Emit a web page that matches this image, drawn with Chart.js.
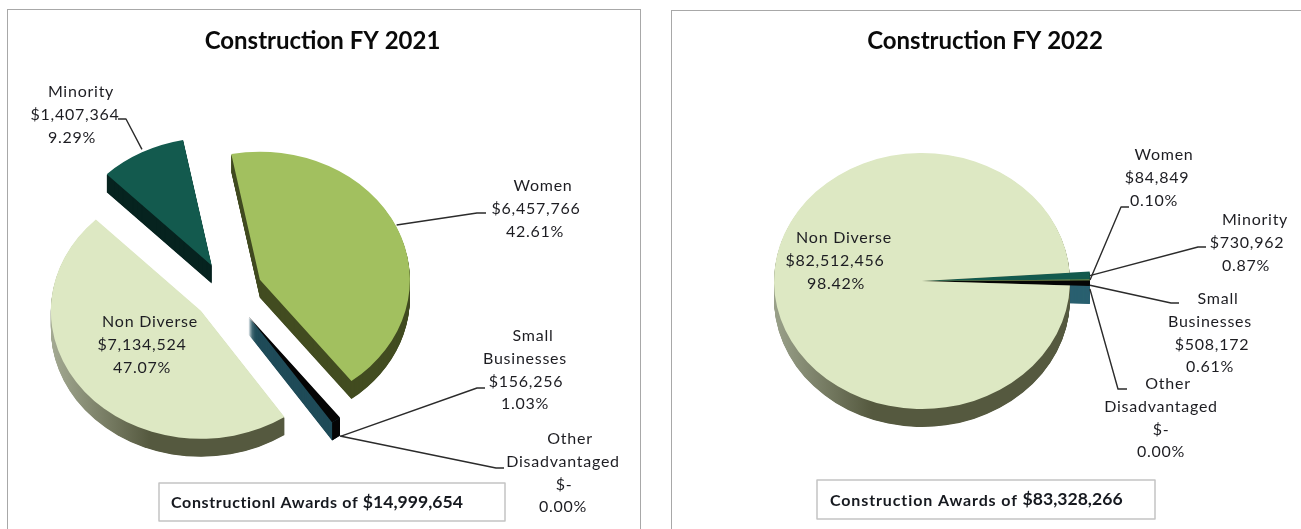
<!DOCTYPE html>
<html><head><meta charset="utf-8">
<style>
html,body{margin:0;padding:0;background:#fff;width:1301px;height:529px;overflow:hidden}
.panel{position:absolute;box-sizing:border-box;background:#fff}
canvas{position:absolute;top:0}
</style>
<script src="https://cdn.jsdelivr.net/npm/chart.js@4"></script>
</head><body>
<div class="panel" style="left:7px;top:9px;width:634px;height:540px;border:1.5px solid #a8a8a8"></div>
<div class="panel" style="left:671px;top:10px;width:650px;height:540px;border:1.5px solid #a8a8a8"></div>
<canvas id="c1" style="left:0;width:650px;height:529px"></canvas>
<canvas id="c2" style="left:650px;width:651px;height:529px"></canvas>
<script>
// ---------- data ----------
const categories2021 = ['Women', 'Other Disadvantaged', 'Small Businesses', 'Non Diverse', 'Minority'];
const values2021 = [6457766, 0, 156256, 7134524, 1407364];
const categories2022 = ['Minority', 'Women', 'Small Businesses', 'Other Disadvantaged', 'Non Diverse'];
const values2022 = [730962, 84849, 508172, 0, 82512456];
const title2021 = 'Construction FY 2021';
const title2022 = 'Construction FY 2022';
const awardsLabel2021 = 'Constructionl Awards of ';
const awardsTotal2021 = '$14,999,654';
const awardsLabel2022 = 'Construction Awards of ';
const awardsTotal2022 = '$83,328,266';

// ---------- styles ----------
const FONT = 'Lato';
const LABEL_FONT = '16px ' + FONT;
const LIME = '#a2c05f', PALE = '#dde8c3', PINE = '#135a4e', BLACK = '#050505';
const faces2021 = [LIME, BLACK, BLACK, PALE, PINE];
const walls2021 = ['#424c20', '#1f4b58', '#1f4b58', 'GRAD', '#06231f'];
const rims2021 = [null, null, BLACK, null, null];
const faces2022 = [PINE, LIME, BLACK, BLACK, PALE];
const walls2022 = ['#06231f', '#424c20', '#2a6070', '#2a6070', 'GRAD'];
const rims2022 = [null, null, null, null, null];

// ---------- layout (page pixels) ----------
const labels2021 = [
  {xs:[542,535,534], y:186, leader:[[477,213],[486,213]], nudge:[0,-2]},
  {xs:[569,562,563,562], y:439, leader:[[496,468],[504,468]], nudge:[-1,19]},
  {xs:[532,524,525,524], y:336, leader:[[477,388],[485,388]], nudge:[5,16]},
  {xs:[149,141,141], y:322},
  {xs:[80,74,71], y:92, leader:[[126,119],[118,119]], nudge:[0,-3]}
];
const labels2022 = [
  {xs:[1254,1246,1245], y:220, leader:[[1198,247],[1206,247]], nudge:[0,0]},
  {xs:[1163,1156,1153], y:155, leader:[[1121,207],[1129,207]], nudge:[0,0]},
  {xs:[1217,1209,1211,1209], y:299, leader:[[1171,303],[1179,303]], nudge:[0,2]},
  {xs:[1167,1160,1160,1160], y:384, leader:[[1118,389],[1127,389]], nudge:[0,3]},
  {xs:[843,834,835], y:238}
];

function money(v){ return v === 0 ? '$-' : '$' + v.toLocaleString('en-US'); }
function labelLines(name, value, total){
  const head = name === 'Non Diverse' ? [name] : name.split(' ');
  return head.concat([money(value), (value/total*100).toFixed(2) + '%']);
}

function pie3d(cfg){
  let bx = 0, by = 0;
  const xf = (ctx,d) => {
    ctx.translate(cfg.cx, cfg.cy+d);
    ctx.scale(1,cfg.sy);
    ctx.translate(-bx,-by);
  };
  return {
    id:'pie3d',
    // each slice is pulled out along its own mid-angle, and small slices may reach further out
    afterDatasetUpdate(chart){
      chart.getDatasetMeta(0).data.forEach((a,i)=>{
        bx = a.x; by = a.y;
        const mid = (a.startAngle+a.endAngle)/2;
        a.x = bx + Math.cos(mid)*cfg.explode;
        a.y = by + Math.sin(mid)*cfg.explode;
        a.outerRadius += cfg.boost[i]||0;
      });
    },
    beforeDatasetDraw(chart){
      const ctx = chart.ctx, arcs = chart.getDatasetMeta(0).data;
      const dx = cfg.cx-bx;
      const grad = ctx.createLinearGradient(cfg.gradX[0]-dx,0,cfg.gradX[1]-dx,0);
      grad.addColorStop(0,cfg.gradFrom); grad.addColorStop(1,'#55593f');
      cfg.wallOrder.forEach(i=>{
        const a = arcs[i];
        if (a.endAngle-a.startAngle <= 0) return;
        ctx.fillStyle = cfg.walls[i]==='GRAD' ? grad : cfg.walls[i];
        for (let d=cfg.depth; d>=1; d-=0.5){
          ctx.save(); xf(ctx,d);
          ctx.beginPath(); ctx.moveTo(a.x,a.y); ctx.arc(a.x,a.y,a.outerRadius,a.startAngle,a.endAngle); ctx.closePath();
          ctx.fill(); ctx.restore();
        }
        if (cfg.rims[i]){
          ctx.save(); ctx.fillStyle = cfg.rims[i];
          const pts=[];
          for(let k=0;k<=12;k++){
            const t=a.startAngle+(a.endAngle-a.startAngle)*k/12;
            pts.push([cfg.cx+(a.x-bx)+Math.cos(t)*a.outerRadius, cfg.cy+((a.y-by)+Math.sin(t)*a.outerRadius)*cfg.sy]);
          }
          ctx.beginPath(); pts.forEach((p,k)=>k?ctx.lineTo(p[0],p[1]):ctx.moveTo(p[0],p[1]));
          pts.slice().reverse().forEach(p=>ctx.lineTo(p[0],p[1]+cfg.depth)); ctx.closePath(); ctx.fill(); ctx.restore();
        }
      });
      ctx.save(); xf(ctx,0);
    },
    afterDatasetDraw(chart){ chart.ctx.restore(); },
    afterDraw(chart){
      const ctx = chart.ctx, arcs = chart.getDatasetMeta(0).data, ox = cfg.originX;
      const total = cfg.values.reduce((s,v)=>s+v,0);
      ctx.save();
      ctx.strokeStyle='#2b2b2b'; ctx.lineWidth=1.4; ctx.lineJoin='round';
      cfg.labels.forEach((L,i)=>{
        if(!L.leader) return;
        const a=arcs[i], mid=(a.startAngle+a.endAngle)/2;
        const sx=cfg.cx+(a.x-bx)+Math.cos(mid)*a.outerRadius+L.nudge[0];
        const sy=cfg.cy+((a.y-by)+Math.sin(mid)*a.outerRadius)*cfg.sy+L.nudge[1];
        ctx.beginPath(); ctx.moveTo(sx,sy);
        L.leader.forEach(p=>ctx.lineTo(p[0]-ox,p[1])); ctx.stroke();
      });
      ctx.fillStyle='#1d1d22'; ctx.font=LABEL_FONT; ctx.textAlign='center'; ctx.textBaseline='middle';
      ctx.letterSpacing='0.75px';
      cfg.labels.forEach((L,i)=>{
        labelLines(cfg.categories[i],cfg.values[i],total).forEach((t,k)=>{
          ctx.fillText(t,L.xs[k]-ox+1,L.y+k*22.7);
        });
      });
      const b=cfg.box;
      ctx.letterSpacing='0px';
      ctx.strokeStyle='#c4c4c4'; ctx.lineWidth=1.5; ctx.fillStyle='#fff';
      ctx.fillRect(b.x-ox,b.y,b.w,b.h); ctx.strokeRect(b.x-ox,b.y,b.w,b.h);
      ctx.fillStyle='#16191f'; ctx.textAlign='left';
      ctx.letterSpacing=b.spacing;
      ctx.font='bold 16px '+FONT; ctx.fillText(cfg.awards,b.textX-ox,b.y+b.h/2+1);
      const w=ctx.measureText(cfg.awards).width;
      ctx.letterSpacing='0px';
      ctx.font='bold 17.6px '+FONT; ctx.fillText(cfg.total,b.textX-ox+w,b.y+b.h/2);
      ctx.restore();
    }
  };
}

function build(id, cfg, title, radius, rotation, padL, padR){
  new Chart(document.getElementById(id),{
    type:'pie',
    data:{labels:cfg.categories,datasets:[{
      data:cfg.values, backgroundColor:cfg.faces, borderWidth:0, radius:radius, clip:false
    }]},
    options:{
      responsive:false, animation:false, events:[], rotation:rotation,
      layout:{padding:{left:padL,right:padR,top:0,bottom:0}},
      plugins:{
        legend:{display:false}, tooltip:{enabled:false},
        title:{display:true,text:title,color:'#0a0a0a',font:{family:FONT,size:24,weight:'bold'},padding:{top:27,bottom:10}}
      }
    },
    plugins:[pie3d(cfg)]
  });
}

function size(id,w,h){const c=document.getElementById(id);c.width=w;c.height=h;}
size('c1',650,529); size('c2',651,529);

build('c1',{
  categories:categories2021, values:values2021, faces:faces2021, walls:walls2021, rims:rims2021,
  labels:labels2021, originX:0, cx:228, cy:292, sy:0.853, depth:18, explode:35, boost:[],
  gradX:[52,150], gradFrom:'#a3a992', wallOrder:[4,0,3,1,2],
  awards:awardsLabel2021, total:awardsTotal2021,
  box:{x:159,y:483,w:346,h:38,textX:171,spacing:'0.65px'}
}, title2021, 150, 349, 0, 5);

build('c2',{
  categories:categories2022, values:values2022, faces:faces2022, walls:walls2022, rims:rims2022,
  labels:labels2022, originX:650, cx:272, cy:281, sy:0.865, depth:18, explode:0, boost:[20,20,20,20,0],
  gradX:[124,222], gradFrom:'#9aa18a', wallOrder:[0,1,3,2,4],
  awards:awardsLabel2022, total:awardsTotal2022,
  box:{x:817,y:480,w:338,h:39,textX:830,spacing:'0.88px'}
}, title2022, 148, 86.3, 19, 0);
</script>
</body></html>
